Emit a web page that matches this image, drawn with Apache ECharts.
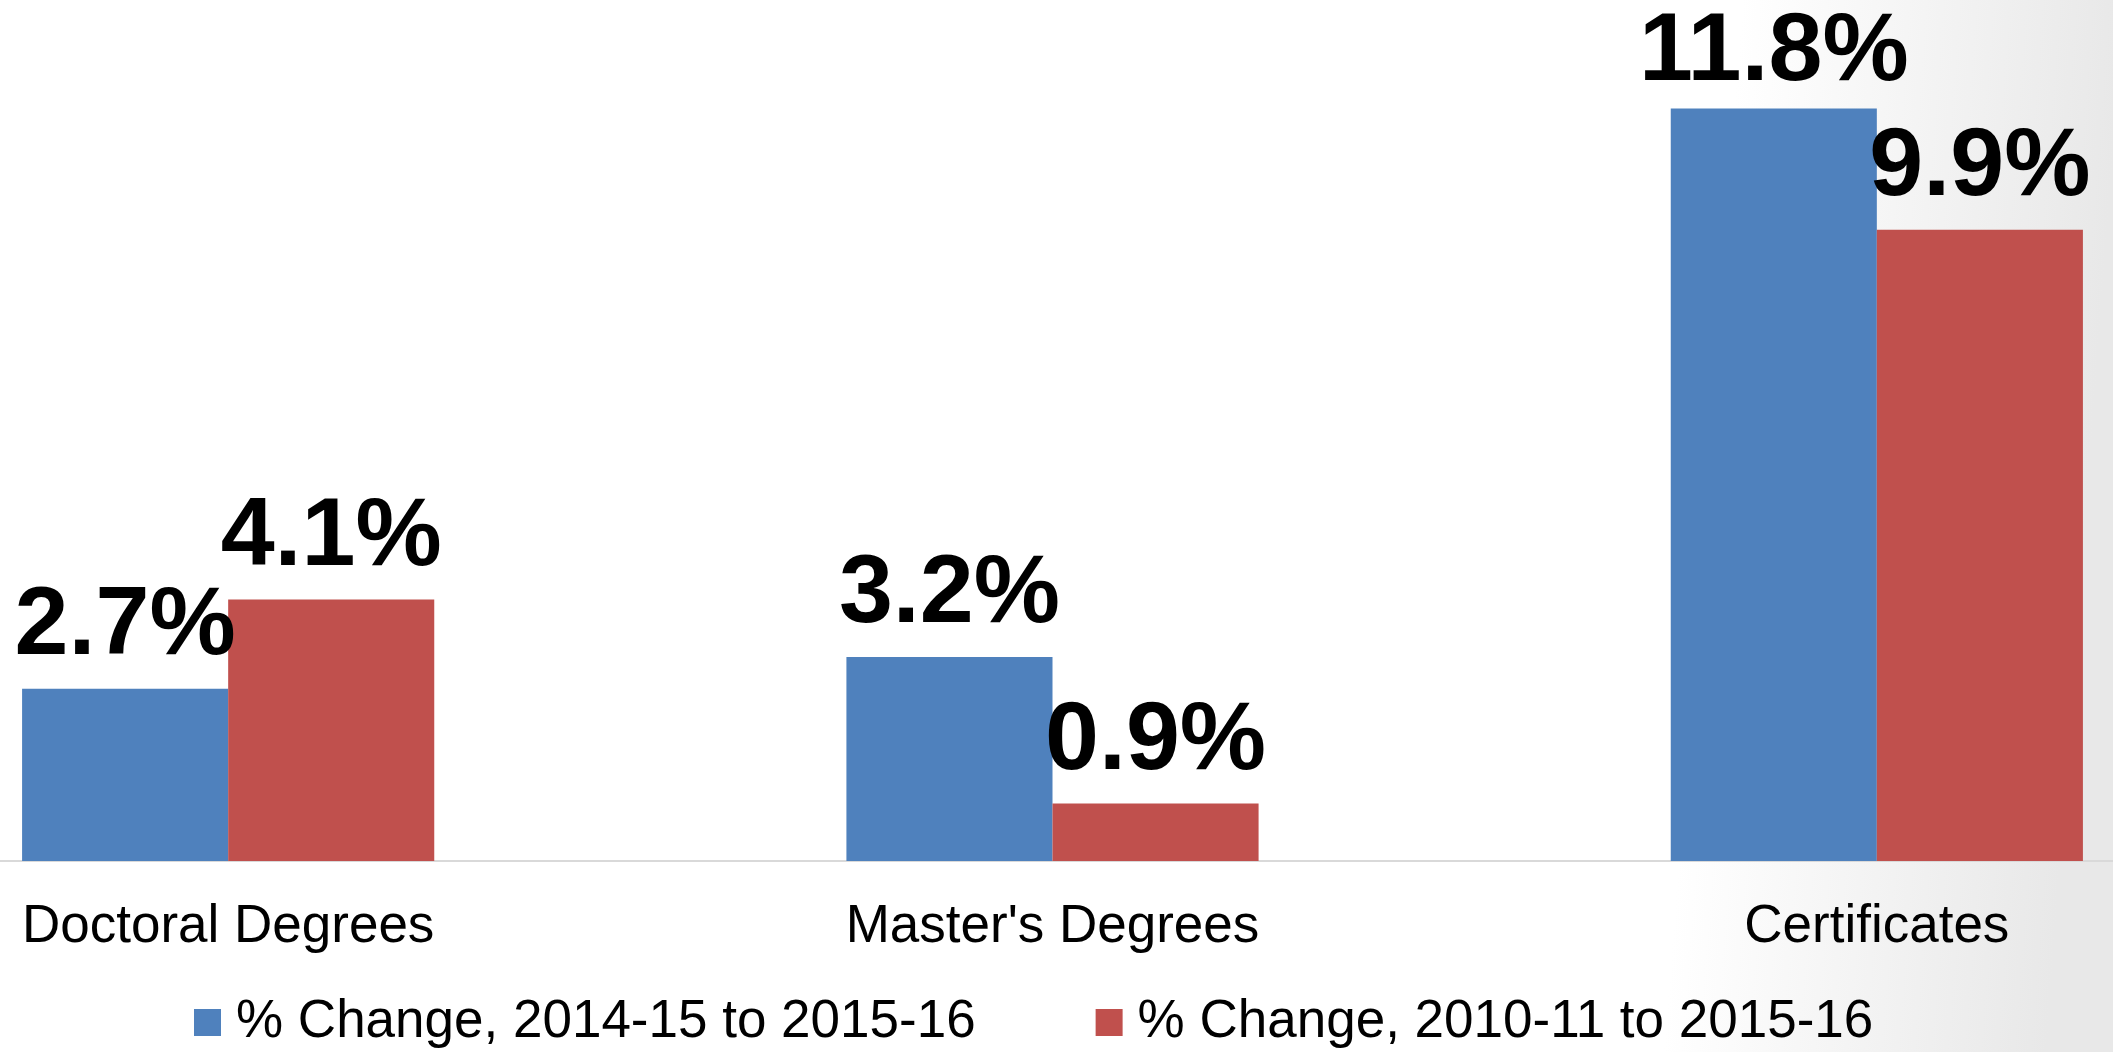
<!DOCTYPE html>
<html>
<head>
<meta charset="utf-8">
<script src="https://cdn.jsdelivr.net/npm/echarts@6/dist/echarts.min.js"></script>
<style>
html,body{margin:0;padding:0;background:#fff;}
#chart{width:2113px;height:1052px;}
</style>
</head>
<body>
<div id="chart"></div>
<script>
const categories = ["Doctoral Degrees", "Master's Degrees", "Certificates"];
const seriesNames = ["% Change, 2014-15 to 2015-16", "% Change, 2010-11 to 2015-16"];
const change1Year = [2.7, 3.2, 11.8];
const change5Year = [4.1, 0.9, 9.9];

const chart = echarts.init(document.getElementById('chart'));
const FONT = '"Liberation Sans", Arial, sans-serif';
const labelCfg = {
  show: true,
  position: 'top',
  distance: 13,
  color: '#000',
  fontFamily: FONT,
  fontWeight: 'bold',
  fontSize: 97,
  formatter: p => p.value.toFixed(1) + '%'
};
// the tallest label sits a little closer to its bar (it is squeezed at the top)
const data1 = change1Year.map((v, i) => i === 2 ? {value: v, label: {distance: 7}} : v);
chart.setOption({
  animation: false,
  backgroundColor: new echarts.graphic.LinearGradient(0, 0, 1, 0.15, [
    {offset: 0, color: '#ffffff'},
    {offset: 0.82, color: '#ffffff'},
    {offset: 1, color: '#e8e8e8'}
  ]),
  grid: {left: -184, right: -176, top: 32, bottom: 191, containLabel: false, outerBoundsMode: 'none'},
  legend: {
    left: 189,
    top: 991,
    itemWidth: 27,
    itemHeight: 27,
    itemGap: 120,
    icon: 'rect',
    textStyle: {fontFamily: FONT, fontSize: 53, color: '#000', padding: [0, 0, 0, 10], lineHeight: 53},
    data: seriesNames
  },
  xAxis: {
    type: 'category',
    data: categories,
    axisLine: {show: true, lineStyle: {color: '#d9d9d9', width: 2}},
    axisTick: {show: false},
    axisLabel: {fontFamily: FONT, fontSize: 53, color: '#000', margin: 40, lineHeight: 53, interval: 0}
  },
  yAxis: {
    type: 'value',
    min: 0,
    max: 13,
    show: false,
    splitLine: {show: false}
  },
  series: [
    {
      name: seriesNames[0],
      type: 'bar',
      data: data1,
      barGap: '0%',
      barCategoryGap: '50%',
      itemStyle: {color: '#4f81bd'},
      label: labelCfg
    },
    {
      name: seriesNames[1],
      type: 'bar',
      data: change5Year,
      barGap: '0%',
      barCategoryGap: '50%',
      itemStyle: {color: '#c0504d'},
      label: labelCfg
    }
  ]
});
</script>
</body>
</html>
